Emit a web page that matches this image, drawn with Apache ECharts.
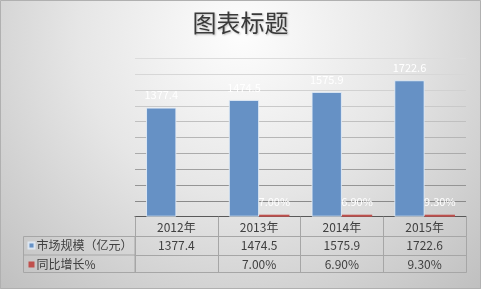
<!DOCTYPE html>
<html>
<head>
<meta charset="utf-8">
<style>
  html, body { margin: 0; padding: 0; background: #ffffff; }
  #chart { width: 481px; height: 289px; }
</style>
<script src="https://cdn.jsdelivr.net/npm/echarts@6/dist/echarts.min.js"></script>
</head>
<body>
<div id="chart"></div>
<script>
// Market size and year-on-year growth, 2012–2015
const years = ['2012年', '2013年', '2014年', '2015年'];
const marketSize = [1377.4, 1474.5, 1575.9, 1722.6];
const growthRate = [null, 0.07, 0.069, 0.093];
const seriesNames = ['市场规模（亿元）', '同比增长%'];

const textColor = '#404040';
const tableLine = '#a6a6a6';
const cjkFont = '"Noto Sans CJK SC", "Noto Sans", sans-serif';

const pct = v => (v === null || v === undefined) ? '' : (v * 100).toFixed(2) + '%';

// Gridlines fade from darker at the base to lighter at the top
const gridColors = ['#7f7f7f', '#8a8a8a', '#959595', '#a0a0a0', '#ababab',
                    '#b6b6b6', '#c0c0c0', '#c9c9c9', '#d1d1d1', '#d7d7d7', '#dcdcdc'];

// Shared settings for the data-table rows drawn under the plot
function tableAxis(offset, tickLen, margin, formatter, showLabel) {
  return {
    type: 'category',
    data: years,
    position: 'bottom',
    offset: offset,
    boundaryGap: true,
    axisLine: { show: true, lineStyle: { color: tableLine, width: 1 } },
    axisTick: { show: tickLen > 0, length: tickLen, inside: false, alignWithLabel: false,
                interval: 0, lineStyle: { color: tableLine, width: 1 } },
    axisLabel: { show: showLabel, interval: 0, margin: margin, color: textColor,
                 fontSize: 12, lineHeight: 12, fontFamily: cjkFont, formatter: formatter },
    splitLine: { show: false }
  };
}

const chart = echarts.init(document.getElementById('chart'), null, { renderer: 'canvas' });

chart.setOption({
  animation: false,
  backgroundColor: {
    type: 'radial', x: 0.5, y: 0.12, r: 1.25,
    colorStops: [
      { offset: 0, color: '#fdfdfd' },
      { offset: 0.45, color: '#e6e6e6' },
      { offset: 1, color: '#bdbdbd' }
    ]
  },
  title: {
    text: '图表标题',
    left: 'center',
    top: 11,
    padding: 0,
    textStyle: { fontSize: 24, fontWeight: 'normal', color: '#3a3a3a', fontFamily: cjkFont,
                 textShadowColor: 'rgba(0,0,0,0.25)', textShadowBlur: 2, textShadowOffsetX: 1, textShadowOffsetY: 1 }
  },
  legend: {
    orient: 'vertical',
    left: 27.5,
    top: 239.5,
    padding: 0,
    itemGap: 7,
    itemWidth: 6,
    itemHeight: 6,
    icon: 'rect',
    selectedMode: false,
    data: seriesNames,
    textStyle: { color: textColor, fontSize: 12, lineHeight: 12, fontFamily: cjkFont, padding: [0, 0, 0, -3] }
  },
  grid: { left: 135, right: 15, top: 58.3, bottom: 72.3, containLabel: false },
  xAxis: [
    {
      type: 'category',
      data: years,
      position: 'bottom',
      boundaryGap: true,
      axisLine: { show: true, lineStyle: { color: '#595959', width: 1 } },
      axisTick: { show: true, length: 20, inside: false, alignWithLabel: false, interval: 0,
                  lineStyle: { color: tableLine, width: 1 } },
      axisLabel: { interval: 0, margin: 5, color: textColor, fontSize: 12, lineHeight: 12, fontFamily: cjkFont },
      splitLine: { show: false }
    },
    tableAxis(20, 18.3, 3, (v, i) => String(marketSize[i]), true),
    tableAxis(38.3, 17.7, 3.5, (v, i) => pct(growthRate[i]), true),
    tableAxis(56, 0, 0, () => '', false)
  ],
  yAxis: {
    type: 'value',
    min: 0,
    max: 2000,
    interval: 200,
    axisLine: { show: false },
    axisTick: { show: false },
    axisLabel: { show: false },
    splitLine: { show: true, lineStyle: { color: gridColors, width: 1 } }
  },
  series: [
    {
      name: seriesNames[0],
      type: 'bar',
      xAxisIndex: 0,
      data: marketSize,
      barGap: '0%',
      barCategoryGap: '26.7%',
      itemStyle: { color: '#6691c5', borderColor: 'rgba(230,238,248,0.85)', borderWidth: 1 },
      label: { show: true, position: 'top', distance: 7, color: '#ffffff', fontSize: 11,
               fontFamily: cjkFont, formatter: p => String(p.value) }
    },
    {
      name: seriesNames[1],
      type: 'bar',
      xAxisIndex: 0,
      data: growthRate,
      barMinHeight: 2,
      itemStyle: { color: '#c0504d' },
      label: { show: true, position: 'top', distance: 7, color: '#ffffff', fontSize: 11,
               fontFamily: cjkFont, formatter: p => pct(p.value) }
    }
  ],
  graphic: [
    // outer frame of the chart area
    { type: 'rect', shape: { x: 0.5, y: 0.5, width: 480, height: 288 }, silent: true,
      style: { fill: 'none', stroke: '#b0b0b0', lineWidth: 1 } },
    // row-header column of the data table
    { type: 'rect', shape: { x: 23.5, y: 236.5, width: 111.5, height: 36 }, silent: true,
      style: { fill: 'none', stroke: tableLine, lineWidth: 1 } },
    { type: 'line', shape: { x1: 23.5, y1: 255, x2: 135, y2: 255 }, silent: true,
      style: { stroke: tableLine, lineWidth: 1 } }
  ]
});
</script>
</body>
</html>
